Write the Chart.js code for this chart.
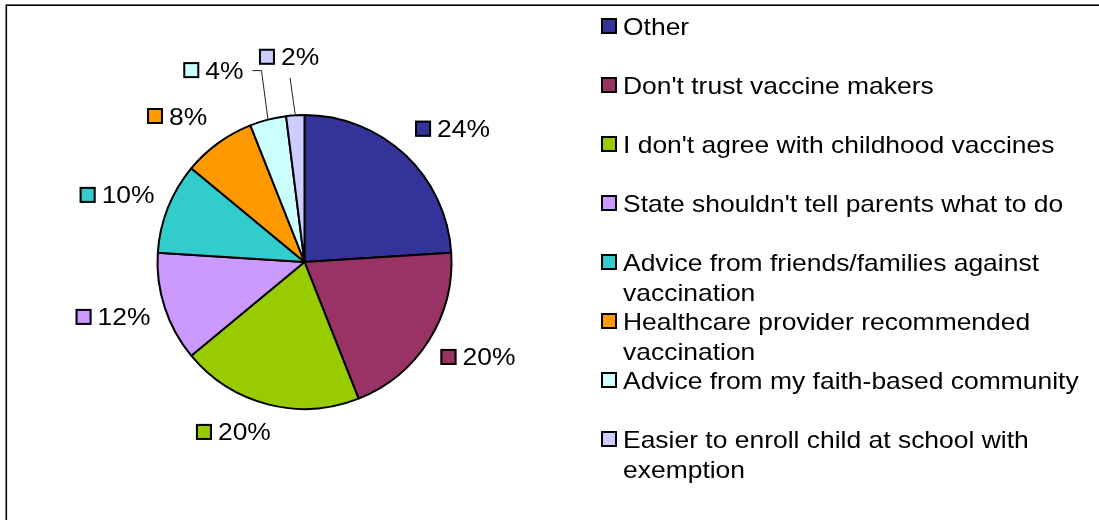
<!DOCTYPE html>
<html>
<head>
<meta charset="utf-8">
<script src="https://cdn.jsdelivr.net/npm/chart.js@4.4.0/dist/chart.umd.min.js"></script>
<style>
  html, body { margin: 0; padding: 0; background: #fff; }
  #wrap { position: relative; width: 1099px; height: 520px; }
</style>
</head>
<body>
<div id="wrap"><canvas id="c"></canvas></div>
<script>
// ---- data ----
const categories = [
  "Other",
  "Don't trust vaccine makers",
  "I don't agree with childhood vaccines",
  "State shouldn't tell parents what to do",
  "Advice from friends/families against vaccination",
  "Healthcare provider recommended vaccination",
  "Advice from my faith-based community",
  "Easier to enroll child at school with exemption"
];
const percentValues = [24, 20, 20, 12, 10, 8, 4, 2];

// ---- styles ----
const sliceColors = ["#333399", "#993366", "#99CC00", "#CC99FF", "#33CCCC", "#FF9900", "#CCFFFF", "#CCCCFF"];
// data label placement: [angle in degrees clockwise from top, distance as factor of radius]
const labelPlacement = [[48, 1.355], [118.7, 1.345], [202.7, 1.253], [254, 1.355], [289.7, 1.354], [318.9, 1.318], [334.6, 1.445], [355.7, 1.40]];
const labelLeader = [null, null, null, null, null, null, "side", "below"];
const FONT = "24px 'Liberation Sans', Arial, sans-serif";
const SX = 1.102;

function drawText(ctx, text, x, y) {
  ctx.save();
  ctx.translate(x, y);
  ctx.scale(SX, 1);
  ctx.fillText(text, 0, 0);
  ctx.restore();
}
function textW(ctx, t) { return ctx.measureText(t).width * SX; }
function keySquare(ctx, x, y, color) {
  ctx.fillStyle = color;
  ctx.fillRect(x, y, 16, 16);
  ctx.strokeStyle = "#000";
  ctx.lineWidth = 2;
  ctx.strokeRect(x + 1, y + 1, 14, 14);
}

const decorPlugin = {
  id: "decor",
  beforeDraw(chart) {
    const ctx = chart.ctx;
    ctx.save();
    ctx.fillStyle = "#fff";
    ctx.fillRect(0, 0, chart.width, chart.height);
    ctx.strokeStyle = "#000";
    ctx.lineWidth = 1.6;
    ctx.strokeRect(6.3, 5.2, chart.width + 20, chart.height + 20);
    ctx.restore();
  },
  afterDraw(chart) {
    const ctx = chart.ctx;
    const meta = chart.getDatasetMeta(0);
    const a0 = meta.data[0];
    const cx = a0.x, cy = a0.y, R = a0.outerRadius;
    const ds = chart.data.datasets[0];
    ctx.save();
    ctx.font = FONT;
    ctx.textBaseline = "alphabetic";
    ctx.textAlign = "left";
    // data labels
    meta.data.forEach((arc, i) => {
      const [angDeg, f] = labelPlacement[i];
      const a = angDeg * Math.PI / 180;
      const gx = cx + f * R * Math.sin(a);
      const gy = cy - f * R * Math.cos(a);
      const txt = ds.data[i] + "%";
      const tw = textW(ctx, txt);
      const gw = 22 + tw;
      const left = gx - gw / 2;
      keySquare(ctx, left, gy - 8, ds.backgroundColor[i]);
      ctx.fillStyle = "#000";
      drawText(ctx, txt, left + 22, gy + 8.5);
      if (labelLeader[i]) {
        const mid = (arc.startAngle + arc.endAngle) / 2;
        const px = cx + R * Math.cos(mid), py = cy + R * Math.sin(mid);
        ctx.beginPath();
        ctx.strokeStyle = "#222";
        ctx.lineWidth = 1;
        if (labelLeader[i] === "side") {
          const sx = left + gw + 9;
          ctx.moveTo(sx, gy + 0.5);
          ctx.lineTo(sx + 9, gy + 0.5);
          ctx.lineTo(px, py);
        } else {
          ctx.moveTo(gx + 1, gy + 21);
          ctx.lineTo(px, py);
        }
        ctx.stroke();
      }
    });
    // legend
    const lx = 601, tx = 623, maxW = 467;
    chart.data.labels.forEach((lab, i) => {
      const y0 = 26 + 59 * i;
      keySquare(ctx, lx, y0 - 8, ds.backgroundColor[i]);
      const words = lab.split(" ");
      const lines = [];
      let cur = "";
      words.forEach(w => {
        const t = cur ? cur + " " + w : w;
        if (cur && textW(ctx, t) > maxW) { lines.push(cur); cur = w; } else { cur = t; }
      });
      if (cur) lines.push(cur);
      ctx.fillStyle = "#000";
      lines.forEach((ln, k) => drawText(ctx, ln, tx, y0 + 8.5 + k * 30.5));
    });
    ctx.restore();
  }
};

new Chart(document.getElementById("c"), {
  type: "pie",
  data: {
    labels: categories,
    datasets: [{
      data: percentValues,
      backgroundColor: sliceColors,
      borderColor: "#000",
      borderWidth: 2,
      radius: 147
    }]
  },
  options: {
    responsive: true,
    maintainAspectRatio: false,
    animation: false,
    events: [],
    layout: { padding: { left: 157, right: 647, top: 115, bottom: 111 } },
    plugins: {
      legend: { display: false },
      tooltip: { enabled: false },
      title: { display: false }
    }
  },
  plugins: [decorPlugin]
});
</script>
</body>
</html>
